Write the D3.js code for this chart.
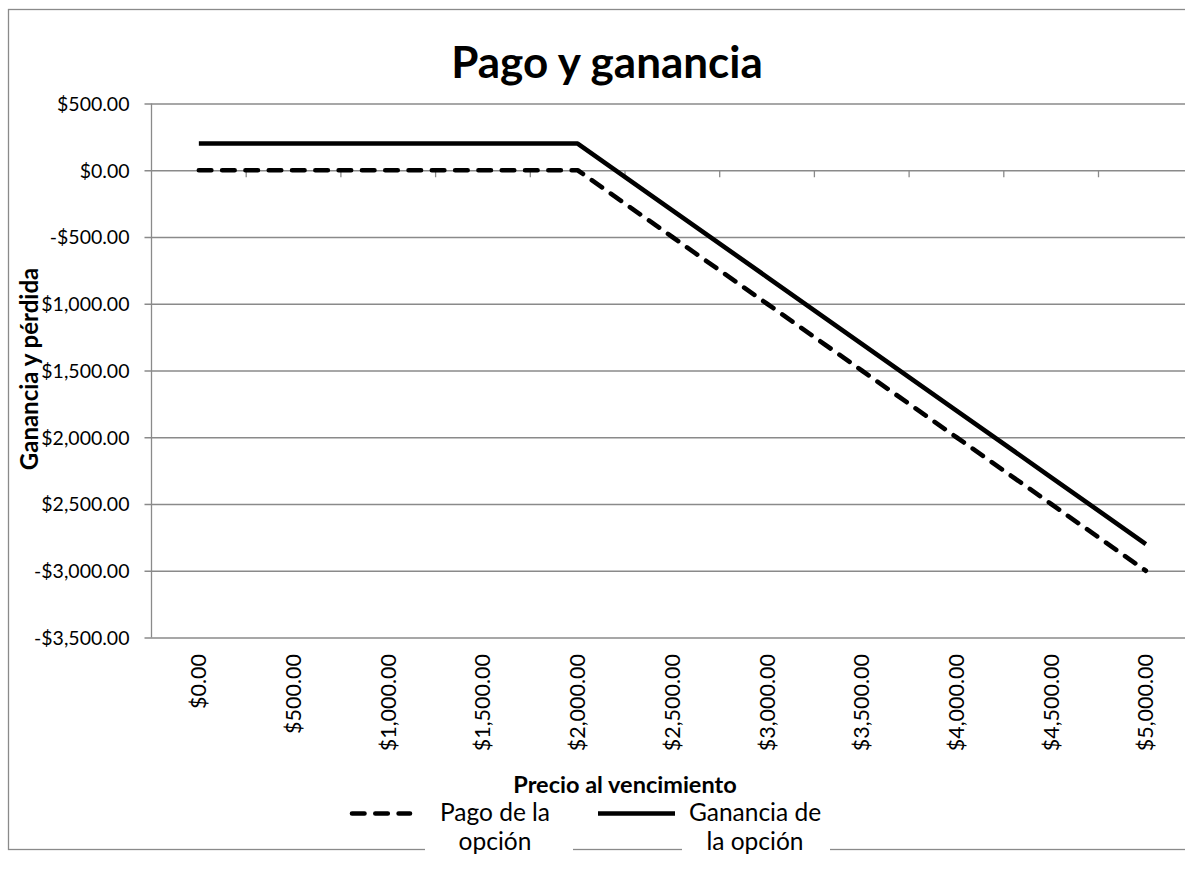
<!DOCTYPE html>
<html><head><meta charset="utf-8">
<script src="https://cdn.jsdelivr.net/npm/d3@7"></script>
<style>
body{margin:0;background:#fff;overflow:hidden}
text{font-family:Lato,"Open Sans",sans-serif;fill:#000}
</style>
</head><body>
<svg id="c" width="1185" height="870"></svg>
<script>
// ---- data ----
const categories = ["$0.00","$500.00","$1,000.00","$1,500.00","$2,000.00","$2,500.00","$3,000.00","$3,500.00","$4,000.00","$4,500.00","$5,000.00"];
const pagoValues = [0,0,0,0,0,-500,-1000,-1500,-2000,-2500,-3000];
const gananciaValues = [200,200,200,200,200,-300,-800,-1300,-1800,-2300,-2800];
const yTickValues = [500,0,-500,-1000,-1500,-2000,-2500,-3000,-3500];
const yTickLabels = ["$500.00","$0.00","-$500.00","$1,000.00","$1,500.00","$2,000.00","$2,500.00","-$3,000.00","-$3,500.00"];
const seriesNames = ["Pago de la opción","Ganancia de la opción"];
const titleText = "Pago y ganancia";
const xTitle = "Precio al vencimiento";
const yTitle = "Ganancia y pérdida";

// ---- layout ----
const svg = d3.select("#c");
const plotL = 151.5, plotT = 103.5, plotB = 637.5, band = 94.7;
const plotR = plotL + band * categories.length;
const gridCol = "#8a8a8a";

const x = d3.scaleBand().domain(categories).range([plotL, plotR]).padding(0);
const y = d3.scaleLinear().domain([-3500, 500]).range([plotB, plotT]);
const cx = c => x(c) + x.bandwidth() / 2;

// outer frame
svg.append("rect").attr("x", 8.5).attr("y", 9.5).attr("width", 1300).attr("height", 840)
  .attr("fill", "none").attr("stroke", gridCol).attr("stroke-width", 1.3);

// title
svg.append("text").attr("x", 607).attr("y", 78).attr("text-anchor", "middle")
  .style("font-weight", "bold").style("font-size", "44px").text(titleText);

// y axis with gridlines
const yAxis = svg.append("g").attr("transform", `translate(${plotL},0)`)
  .call(d3.axisLeft(y).tickValues(yTickValues).tickFormat((d, i) => yTickLabels[i]).tickSizeOuter(0));
yAxis.select(".domain").remove();
yAxis.selectAll(".tick line").attr("x1", -7).attr("x2", plotR - plotL)
  .attr("stroke", gridCol).attr("stroke-width", 1.3);
yAxis.selectAll(".tick text").attr("x", -22).attr("dy", "0.35em")
  .style("font-size", "19.5px").style("font-family", "Lato, sans-serif");
// y axis line
svg.append("line").attr("x1", plotL).attr("x2", plotL).attr("y1", plotT).attr("y2", plotB)
  .attr("stroke", gridCol).attr("stroke-width", 1.3);

// x axis (crossing at 0) with ticks between categories
const y0 = y(0);
svg.append("g").selectAll("line").data(categories.slice(1)).join("line")
  .attr("x1", d => x(d)).attr("x2", d => x(d)).attr("y1", y0).attr("y2", y0 + 7)
  .attr("stroke", gridCol).attr("stroke-width", 1.3);

// x tick labels at bottom, rotated
svg.append("g").selectAll("text").data(categories).join("text")
  .attr("transform", d => `translate(${cx(d)},654) rotate(-90)`)
  .attr("text-anchor", "end").attr("dy", "0.35em")
  .style("font-size", "21.5px").text(d => d);

// axis titles
svg.append("text").attr("x", 625).attr("y", 793).attr("text-anchor", "middle")
  .style("font-weight", "bold").style("font-size", "23.5px").text(xTitle);
svg.append("text").attr("transform", `translate(38,369) rotate(-90)`).attr("text-anchor", "middle")
  .style("font-weight", "bold").style("font-size", "24px").text(yTitle);

// series
const line = d3.line().x((d, i) => cx(categories[i])).y(d => y(d));
svg.append("path").datum(pagoValues).attr("d", line).attr("fill", "none")
  .attr("stroke", "#000").attr("stroke-width", 4.6).attr("stroke-linecap", "round")
  .attr("stroke-linejoin", "round").attr("stroke-dasharray", "12.5 10.8");
svg.append("path").datum(gananciaValues).attr("d", line).attr("fill", "none")
  .attr("stroke", "#000").attr("stroke-width", 4.6).attr("stroke-linejoin", "round");

// legend
const legend = svg.append("g");
const legItems = [
  {name: seriesNames[0], dash: "12.5 10.8", cap: "round", x1: 352, x2: 410, lines: ["Pago de la", "opción"], tx: 495, box: [425, 573]},
  {name: seriesNames[1], dash: null, cap: "butt", x1: 598, x2: 675, lines: ["Ganancia de", "la opción"], tx: 755, box: [682, 830]}
];
legItems.forEach(it => {
  legend.append("rect").attr("x", it.box[0]).attr("y", 800).attr("width", it.box[1] - it.box[0])
    .attr("height", 70).attr("fill", "#fff");
  legend.append("line").attr("x1", it.x1).attr("x2", it.x2).attr("y1", 813.5).attr("y2", 813.5)
    .attr("stroke", "#000").attr("stroke-width", 4.6).attr("stroke-linecap", it.cap)
    .attr("stroke-dasharray", it.dash);
  const t = legend.append("text").attr("text-anchor", "middle").style("font-size", "24.5px");
  t.selectAll("tspan").data(it.lines).join("tspan")
    .attr("x", it.tx).attr("y", (d, i) => 821 + i * 29).text(d => d);
});
</script>
</body></html>
